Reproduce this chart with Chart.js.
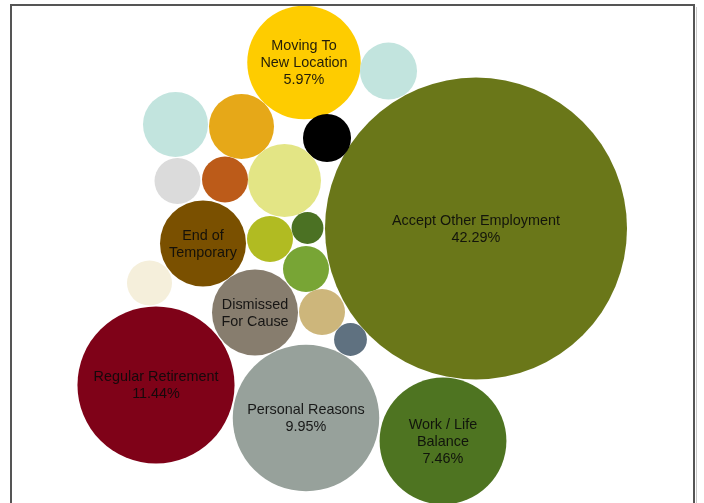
<!DOCTYPE html>
<html>
<head>
<meta charset="utf-8">
<script src="https://cdn.jsdelivr.net/npm/chart.js@4/dist/chart.umd.min.js"></script>
<style>
  html, body { margin: 0; padding: 0; background: #ffffff; }
  canvas { display: block; }
</style>
</head>
<body>
<canvas id="chart" width="704" height="503"></canvas>
<script>
// Termination reasons, share of all separations (%)
const categories = [
  'Accept Other Employment', 'Moving To New Location', 'Regular Retirement',
  'Personal Reasons', 'Work / Life Balance', 'End of Temporary', 'Dismissed For Cause',
  null, null, null, null, null, null, null, null, null, null, null, null, null
];
const shares = [
  42.29, 5.97, 11.44,
  9.95, 7.46, 3.43, 3.43,
  1.51, 1.96, 1.96, 1.07, 0.98, 0.98, 2.47, 0.98, 0.47, 0.98, 0.94, 0.98, 0.50
];
// Text drawn inside each labelled bubble
const labelLines = [
  ['Accept Other Employment', '42.29%'],
  ['Moving To', 'New Location', '5.97%'],
  ['Regular Retirement', '11.44%'],
  ['Personal Reasons', '9.95%'],
  ['Work / Life', 'Balance', '7.46%'],
  ['End of', 'Temporary'],
  ['Dismissed', 'For Cause'],
  null, null, null, null, null, null, null, null, null, null, null, null, null
];
// Packed layout position of each bubble (layout units)
const layoutX = [476, 304, 156, 306, 443, 203, 255, 388.5, 175.5, 241.5, 327, 177.5, 225, 284.5, 270, 307.5, 306, 149.5, 322, 350.5];
const layoutY = [228.5, 62.5, 385, 418, 441, 243.5, 312.5, 71, 124.5, 126.5, 138, 181, 179.5, 180.5, 239, 228, 269, 283, 312, 339.5];

const colors = [
  '#6a7719', '#fecc00', '#7f0218',
  '#97a19b', '#4e7421', '#7a5000', '#877d6e',
  '#c2e4de', '#c2e4de', '#e6a818', '#000000', '#dbdbdb', '#bc5b19', '#e3e585',
  '#b1bb22', '#4b7123', '#78a535', '#f5efdb', '#cdb67b', '#5f7180'
];

// Bubble area is proportional to the share
const RADIUS_PER_SQRT = 23.22;

const bubbleLabels = {
  id: 'bubbleLabels',
  afterDatasetsDraw(chart) {
    const ctx = chart.ctx;
    const meta = chart.getDatasetMeta(0);
    ctx.save();
    ctx.font = '14.4px "Liberation Sans", Arial, sans-serif';
    ctx.fillStyle = 'rgba(10,10,10,0.9)';
    ctx.textAlign = 'center';
    ctx.textBaseline = 'middle';
    const lineH = 17;
    meta.data.forEach((el, i) => {
      const lines = labelLines[i];
      if (!lines) return;
      const top = el.y + 1 - (lines.length - 1) * lineH / 2;
      lines.forEach((t, j) => ctx.fillText(t, el.x, top + j * lineH));
    });
    ctx.restore();
  }
};

const frame = {
  id: 'frame',
  beforeDraw(chart) {
    const ctx = chart.ctx;
    ctx.save();
    ctx.fillStyle = '#ffffff';
    ctx.fillRect(0, 0, chart.width, chart.height);
    ctx.restore();
  },
  afterDraw(chart) {
    const ctx = chart.ctx;
    ctx.save();
    // light shadow along the right edge
    ctx.strokeStyle = '#c8c8c8';
    ctx.lineWidth = 1;
    ctx.beginPath();
    ctx.moveTo(696.5, 7);
    ctx.lineTo(696.5, chart.height + 2);
    ctx.stroke();
    ctx.strokeStyle = '#555555';
    ctx.lineWidth = 2;
    ctx.beginPath();
    ctx.moveTo(11, chart.height + 2);
    ctx.lineTo(11, 5);
    ctx.lineTo(694, 5);
    ctx.lineTo(694, chart.height + 2);
    ctx.stroke();
    ctx.restore();
  }
};

new Chart(document.getElementById('chart'), {
  type: 'bubble',
  data: {
    labels: categories,
    datasets: [{
      label: 'Termination reasons',
      data: shares.map((v, i) => ({ x: layoutX[i], y: layoutY[i], r: RADIUS_PER_SQRT * Math.sqrt(v) })),
      backgroundColor: colors,
      borderWidth: 0,
      clip: false
    }]
  },
  options: {
    responsive: false,
    animation: false,
    events: [],
    layout: { padding: 0, autoPadding: false },
    scales: {
      x: { type: 'linear', min: 0, max: 704, display: false },
      y: { type: 'linear', min: 0, max: 503, reverse: true, display: false }
    },
    plugins: {
      legend: { display: false },
      tooltip: { enabled: false }
    }
  },
  plugins: [frame, bubbleLabels]
});
</script>
</body>
</html>
